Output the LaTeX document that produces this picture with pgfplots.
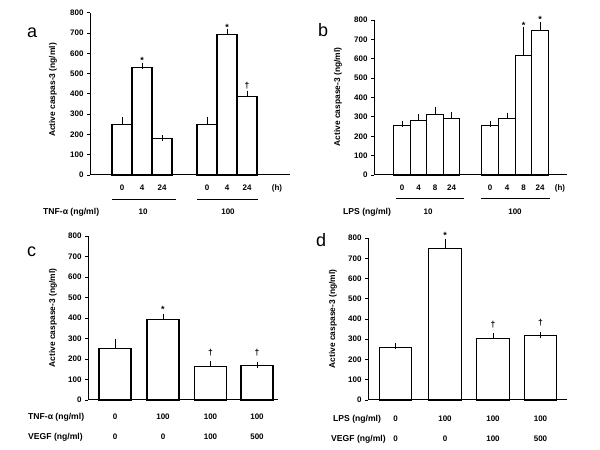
\documentclass[border=0pt]{standalone}
\usepackage{pgfplots}
\pgfplotsset{compat=1.18}
\usepackage{fontspec}
\setmainfont{Liberation Sans}
\newcommand{\tk}{\bfseries\fontsize{8}{9}\selectfont}
\newcommand{\lb}{\bfseries\fontsize{8}{9}\selectfont}
\newcommand{\rl}{\bfseries\fontsize{8.6}{10}\selectfont}
\newcommand{\yl}{\bfseries\fontsize{8.4}{10}\selectfont}
\newcommand{\st}{\bfseries\fontsize{9}{10}\selectfont}
\newcommand{\pl}{\fontsize{18}{20}\selectfont}
\pgfplotsset{panel/.style={
  scale only axis, axis lines*=left, enlargelimits=false,
  ymin=0, ymax=800, ytick={0,100,...,800},
  tick align=outside, major tick length=3pt,
  ytick style={line width=0.8pt,black}, xtick style={draw=none},
  axis line style={line width=1pt},
  /pgf/number format/assume math mode=true,
  ticklabel style={font=\tk},
  xticklabel style={yshift=-3.5pt},
  clip=false, anchor=south west,
},
barplot/.style={ybar, bar width=#1, fill=white, draw=black, line width=1.1pt,
  error bars/.cd, y dir=plus, y explicit,
  error bar style={line width=0.8pt},
  error mark options={line width=0.8pt, mark size=3pt}}
}
\begin{document}
\begin{tikzpicture}[x=1pt,y=1pt]
\path[use as bounding box] (0,0) rectangle (600,450);
% ---------- panel a ----------
\begin{axis}[panel, at={(90pt,275pt)}, width=200pt, height=162.3pt,
  xmin=90, xmax=290, xtick={122,142,162,207,227,247},
  xticklabels={0,4,24,0,4,24}]
\addplot[barplot=20] coordinates {
  (122,250) +- (0,22)
  (142,530) +- (0,7)
  (162,178) +- (0,2)
  (207,250) +- (0,22)
  (227,693) +- (0,14)
  (247,388) +- (0,12)};
\end{axis}
\node[font=\st] at (142,390) {*};
\node[font=\st] at (227,423) {*};
\node[font=\rl] at (247,364) {\dag};
\node[font=\lb] at (277,262) {(h)};
\draw[line width=0.8pt] (112,251) -- (176,251);
\draw[line width=0.8pt] (197,251) -- (258,251);
\node[font=\rl, anchor=west, inner sep=0] at (43,238) {TNF-α (ng/ml)};
\node[font=\lb] at (143,238) {10};
\node[font=\lb] at (228,238) {100};
\node[font=\yl, rotate=90] at (53,360) {Active caspas-3 (ng/ml)};
\node[font=\pl, anchor=base west, inner sep=0] at (27,412) {a};
% ---------- panel b ----------
\begin{axis}[panel, at={(374pt,275pt)}, width=193pt, height=155pt,
  xmin=374, xmax=567, xtick={402,418.5,435,451.5,490,507,523.5,540},
  xticklabels={0,4,8,24,0,4,8,24}]
\addplot[barplot=16.5] coordinates {
  (402,257) +- (0,5)
  (418.5,280) +- (0,18)
  (435,312) +- (0,26)
  (451.5,293) +- (0,17)
  (490,257) +- (0,4)
  (507,293) +- (0,10)
  (523.5,615) +- (0,135)
  (540,745) +- (0,30)};
\end{axis}
\node[font=\st] at (523.5,425) {*};
\node[font=\st] at (540,431) {*};
\node[font=\lb] at (560,262) {(h)};
\draw[line width=0.8pt] (396,252) -- (464,252);
\draw[line width=0.8pt] (481,252) -- (550,252);
\node[font=\rl, anchor=west, inner sep=0] at (343,238) {LPS (ng/ml)};
\node[font=\lb] at (428,238) {10};
\node[font=\lb] at (515,238) {100};
\node[font=\yl, rotate=90] at (338,353) {Active caspase-3 (ng/ml)};
\node[font=\pl, anchor=base west, inner sep=0] at (318,413) {b};
% ---------- panel c ----------
\begin{axis}[panel, at={(88pt,50pt)}, width=190pt, height=164pt,
  xmin=88, xmax=278, xtick=\empty]
\addplot[barplot=32] coordinates {
  (115,252) +- (0,33)
  (163,392) +- (0,11)
  (210.5,165) +- (0,10)
  (257,170) +- (0,3)};
\end{axis}
\node[font=\st] at (163,141) {*};
\node[font=\rl] at (210.5,97) {\dag};
\node[font=\rl] at (257,97) {\dag};
\node[font=\rl, anchor=west, inner sep=0] at (28,33) {TNF-α (ng/ml)};
\node[font=\rl, anchor=west, inner sep=0] at (28,13) {VEGF (ng/ml)};
\foreach \x/\a/\b in {115/0/0,163/100/0,210.5/100/100,257/100/500}{
  \node[font=\lb] at (\x,33) {\a};
  \node[font=\lb] at (\x,13) {\b};
}
\node[font=\yl, rotate=90] at (53,132) {Active caspase-3 (ng/ml)};
\node[font=\pl, anchor=base west, inner sep=0] at (27,193) {c};
% ---------- panel d ----------
\begin{axis}[panel, at={(368pt,50pt)}, width=199pt, height=162pt,
  xmin=368, xmax=567, xtick=\empty]
\addplot[barplot=32.5] coordinates {
  (395.5,260) +- (0,7)
  (445,750) +- (0,30)
  (493,302) +- (0,13)
  (540.5,318) +- (0,4)};
\end{axis}
\node[font=\st] at (445,215) {*};
\node[font=\rl] at (493,125) {\dag};
\node[font=\rl] at (540.5,127) {\dag};
\node[font=\rl, anchor=west, inner sep=0] at (333,31) {LPS (ng/ml)};
\node[font=\rl, anchor=west, inner sep=0] at (331,11) {VEGF (ng/ml)};
\foreach \x/\a/\b in {395.5/0/0,445/100/0,493/100/100,540.5/100/500}{
  \node[font=\lb] at (\x,31) {\a};
  \node[font=\lb] at (\x,11) {\b};
}
\node[font=\yl, rotate=90] at (333,131) {Active caspase-3 (ng/ml)};
\node[font=\pl, anchor=base west, inner sep=0] at (316,203) {d};
\end{tikzpicture}
\end{document}
